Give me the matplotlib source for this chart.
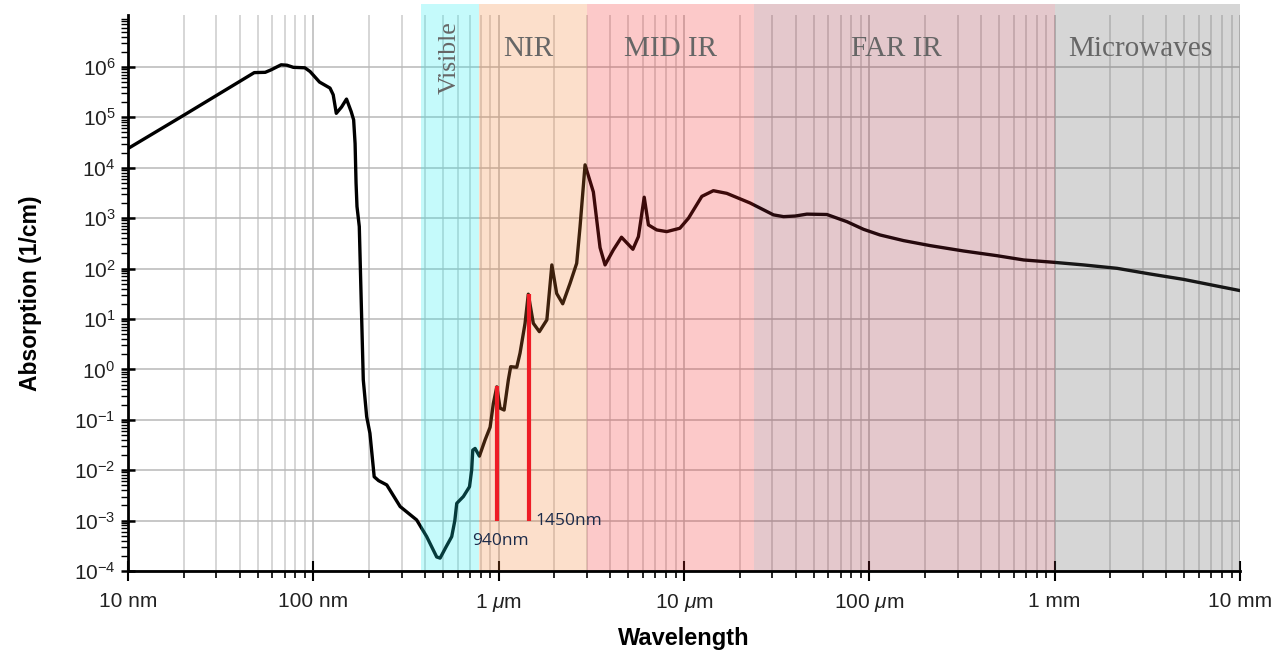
import numpy as np
import matplotlib
matplotlib.use("Agg")
import matplotlib.pyplot as plt
import matplotlib.transforms as mtransforms
from matplotlib.ticker import FixedLocator, LogLocator, NullFormatter, LogFormatterSciNotation

plt.rcParams['font.family'] = ['Liberation Sans', 'DejaVu Sans']
plt.rcParams['mathtext.fontset'] = 'custom'
plt.rcParams['mathtext.rm'] = 'Liberation Sans'
plt.rcParams['mathtext.it'] = 'Liberation Sans:italic'
plt.rcParams['mathtext.bf'] = 'Liberation Sans:bold'

# absorption spectrum of water (wavelength in nm)
wavelength_nm = [10, 20, 48, 55, 59, 67, 72, 78, 90, 96,
                 108, 123, 128, 133, 142, 151, 160, 165, 168, 170,
                 172, 177, 182, 186, 194, 202, 213, 225, 249, 294,
                 361, 409, 463, 483, 520, 558, 580, 594, 645, 696,
                 715, 725, 746, 787, 845, 899, 936, 977, 1018, 1070,
                 1128, 1161, 1252, 1304, 1388, 1445, 1538, 1658, 1820, 1936,
                 2056, 2216, 2428, 2636, 2749, 2925, 3243, 3524, 3750, 4156,
                 4600, 5300, 5676, 6100, 6427, 7130, 8070, 9500, 10570, 12480,
                 14400, 17020, 22700, 30400, 34440, 39800, 46000, 59000, 75700, 93000,
                 114000, 153000, 212800, 322000, 487500, 680000, 986000, 1430000, 2170000, 3270000,
                 4950000, 7500000, 10000000]
absorption = [2.4e4, 1.1e5, 7.7e5, 7.8e5, 8.7e5, 1.1e6, 1.08e6, 9.8e5, 9.6e5, 8.1e5,
              5e5, 3.8e5, 2.8e5, 1.2e5, 1.6e5, 2.3e5, 1.3e5, 8.9e4, 3e4, 5e3,
              1.7e3, 680, 13, 0.62, 0.115, 0.054, 7.4e-3, 6.2e-3, 5.1e-3, 1.9e-3,
              1.03e-3, 4.8e-4, 1.9e-4, 1.8e-4, 3e-4, 4.8e-4, 1e-3, 2.2e-3, 3e-3, 4.7e-3,
              1e-2, 2.5e-2, 2.7e-2, 1.9e-2, 4e-2, 7.1e-2, 0.21, 0.45, 0.17, 0.156,
              0.62, 1.13, 1.1, 2.1, 8.2, 31, 8.2, 5.6, 9.6, 118,
              32, 20, 51, 127, 680, 1.14e4, 3.3e3, 260, 118, 234,
              418, 241, 430, 2.6e3, 733, 583, 540, 630, 995, 2.7e3,
              3.5e3, 3.1e3, 2e3, 1.16e3, 1.07e3, 1.1e3, 1.2e3, 1.18e3, 850, 600,
              464, 358, 285, 223, 180, 148, 133, 118, 101, 78,
              61, 45, 36.5]

# spectral bands
band_names = ["Visible", "NIR", "MID IR", "FAR IR", "Microwaves"]
band_edges_nm = [380, 780, 3000, 24000, 1e6, 1e7]
band_colors = ['#1beff3', '#f78233', '#f52929', '#972737', '#5c5c5c']

# marked wavelengths
marker_labels = ["940nm", "1450nm"]
marker_wl = [975, 1450]
marker_top = [0.47, 31]
marker_bottom = 1e-3

x_ticks = [10, 100, 1e3, 1e4, 1e5, 1e6, 1e7]
x_ticklabels = ["10 nm", "100 nm", "1 $\\mu$m", "10 $\\mu$m", "100 $\\mu$m", "1 mm", "10 mm"]
y_ticks = [1e-4, 1e-3, 1e-2, 1e-1, 1e0, 1e1, 1e2, 1e3, 1e4, 1e5, 1e6]

fig = plt.figure(figsize=(12.81, 6.52), dpi=100)
ax = fig.add_axes([128/1281, 81/652, 1112/1281, 556/652])

ax.set_xscale('log')
ax.set_yscale('log')
ax.set_xlim(10, 1e7)
ax.set_ylim(1e-4, 1.07e7)

ax.plot(wavelength_nm, absorption, color='black', lw=2.4, zorder=2, solid_joinstyle='round')

trans = mtransforms.blended_transform_factory(ax.transData, ax.transAxes)
label_shift = [0, -5, 0, -8, -7]  # pixel nudges for band titles
for i, name in enumerate(band_names):
	lo, hi = band_edges_nm[i], band_edges_nm[i+1]
	ax.axvspan(lo, hi, ymin=0, ymax=1.02, color=band_colors[i], alpha=0.25, lw=0,
		zorder=3, clip_on=False)
	xc = np.sqrt(lo*hi)
	if name == "Visible":
		ax.text(xc, 0.924, name, transform=trans, rotation=90, ha='center', va='center',
			family='Liberation Serif', fontsize=18.5, color='#666666', zorder=5)
	else:
		ax.annotate(name, (xc, 0.926), xycoords=trans, xytext=(label_shift[i], 0),
			textcoords='offset pixels', ha='center', va='baseline',
			family='Liberation Serif', fontsize=21, color='#666666', zorder=5)

ax.vlines(marker_wl, marker_bottom, marker_top, color='#ee1c25', lw=3, zorder=4)
ax.annotate(marker_labels[0], (marker_wl[0], marker_bottom), xytext=(-25, -24),
	textcoords='offset pixels', ha='left', va='baseline', family='Open Sans',
	fontsize=12.5, color='#1c2b4a', zorder=5)
ax.annotate(marker_labels[1], (marker_wl[1], marker_bottom), xytext=(7, -4),
	textcoords='offset pixels', ha='left', va='baseline', family='Open Sans',
	fontsize=12.5, color='#1c2b4a', zorder=5)

# ticks
ax.xaxis.set_major_locator(FixedLocator(x_ticks))
ax.set_xticklabels(x_ticklabels)
ax.xaxis.set_minor_locator(LogLocator(base=10, subs=np.arange(2, 10), numticks=50))
ax.xaxis.set_minor_formatter(NullFormatter())
ax.yaxis.set_major_locator(FixedLocator(y_ticks))
ax.yaxis.set_major_formatter(LogFormatterSciNotation())
ax.yaxis.set_minor_locator(LogLocator(base=10, subs=np.arange(2, 10), numticks=50))
ax.yaxis.set_minor_formatter(NullFormatter())

ax.tick_params(axis='x', which='major', direction='inout', length=14, width=1.5, pad=8, labelsize=15, labelcolor='#222222')
ax.tick_params(axis='x', which='minor', direction='out', length=5, width=1.2)
ax.tick_params(axis='y', which='major', direction='inout', length=10, width=1.8, pad=4, labelsize=15, labelcolor='#222222')
ax.tick_params(axis='y', which='minor', direction='out', length=5, width=1)

ax.set_axisbelow(True)
ax.grid(True, which='major', axis='both', color='#b8b8b8', lw=1.1)
ax.grid(True, which='minor', axis='x', color='#cccccc', lw=1.1)

for s in ['top', 'right']:
	ax.spines[s].set_visible(False)
for s in ['left', 'bottom']:
	ax.spines[s].set_linewidth(2)
	ax.spines[s].set_zorder(6)

ax.set_xlabel('Wavelength', fontsize=17, fontweight='bold')
ax.xaxis.set_label_coords(0.5, -0.1)
ax.set_ylabel('Absorption (1/cm)', fontsize=16.5, fontweight='bold')
ax.yaxis.set_label_coords(-0.077, 0.5)

fig.savefig('out.png', dpi=100)
